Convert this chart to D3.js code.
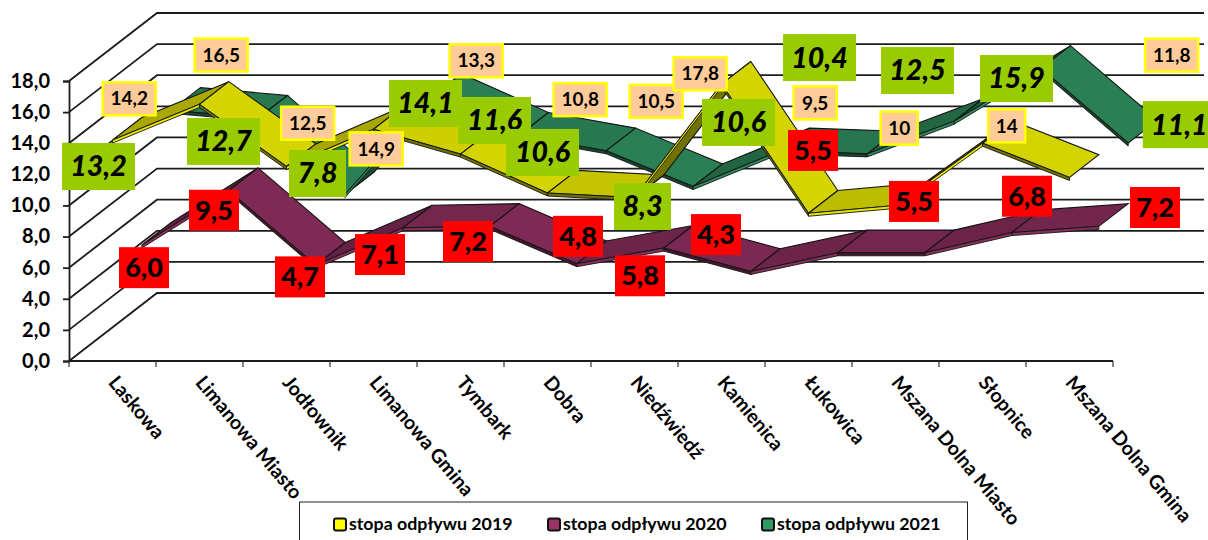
<!DOCTYPE html>
<html lang="pl">
<head>
<meta charset="utf-8">
<title>Stopa odpływu</title>
<script src="https://d3js.org/d3.v7.min.js"></script>
<style>
  body { margin: 0; background: #fff; }
  svg { display: block; }
  text { font-family: Lato, "Open Sans", sans-serif; font-weight: 700; fill: #000; }
</style>
</head>
<body>
<script>
const categories = ["Laskowa", "Limanowa Miasto", "Jodłownik", "Limanowa Gmina", "Tymbark", "Dobra",
  "Niedźwiedź", "Kamienica", "Łukowica", "Mszana Dolna Miasto", "Słopnice", "Mszana Dolna Gmina"];
const yTicks = [0, 2, 4, 6, 8, 10, 12, 14, 16, 18];
const seriesNames = ["stopa odpływu 2019", "stopa odpływu 2020", "stopa odpływu 2021"];
const values2019 = [14.2, 16.5, 12.5, 14.9, 13.3, 10.8, 10.5, 17.8, 9.5, 10, 14, 11.8];
const values2020 = [6.0, 9.5, 4.7, 7.1, 7.2, 4.8, 5.8, 4.3, 5.5, 5.5, 6.8, 7.2];
const values2021 = [13.2, 12.7, 7.8, 14.1, 11.6, 10.6, 8.3, 10.6, 10.4, 12.5, 15.9, 11.1];

// the labels were dragged by hand in the original, so each one has its own offset from its point
const labelShift2019 = [[2,-30],[7,-38],[6.5,-32],[-12,31],[1,-82],[18,-82],[7,-85],[-36,1],[-8,-99],[-11,-66],[9.5,-6],[87.5,-111]];
const labelShift2020 = [[-12.5,34],[-29.5,31],[-30.5,23],[-37.5,38],[-36.5,26.5],[-13.5,-16],[-38.5,39],[-49.5,-25.5],[-39.5,-91],[-25.5,-40],[0.5,-25],[41.5,-7.5]];
const labelShift2021 = [[-87.3,67.5],[-49.3,34.7],[-42.3,-9.5],[-21.3,18.5],[-39.3,-3.4],[-78.3,13],[-65.3,31.3],[-56.3,-17],[-62.3,-85],[-51.3,-39.4],[-39.3,21.5],[36.5,-7]];

const width = 1208, height = 540;
const plotLeft = 69, plotRight = 1113, plotBottom = 361, plotTop = 81;
const depthX = 88, depthY = -68;   // oblique offset front wall -> back wall

const xScale = d3.scaleBand().domain(d3.range(categories.length)).range([plotLeft, plotRight]);
const yScale = d3.scaleLinear().domain([0, 18]).range([plotBottom, plotTop]);
const zScale = d3.scaleLinear().domain([0, 3]).range([0, 1]);

// data -> screen, z runs 0..3 over the three series rows
const px = (i, z) => xScale(i) + xScale.bandwidth() / 2 + zScale(z) * depthX;
const py = (v, z) => yScale(v) + zScale(z) * depthY;

const svg = d3.select("body").append("svg").attr("width", width).attr("height", height);

// walls
const backRight = 1204;
yTicks.forEach(t => {
  svg.append("path")
    .attr("d", `M${plotLeft},${yScale(t)}L${plotLeft + depthX},${yScale(t) + depthY}L${backRight},${yScale(t) + depthY}`)
    .attr("fill", "none").attr("stroke", "#1c1c1c").attr("stroke-width", 1.8);
});

// ribbons
const shade = d3.scaleLinear().domain([-1.4, -0.4, 0, 0.4]).range([0.42, 0.66, 0.76, 0.83]).clamp(true);

function ribbon(values, row, colour) {
  const g = svg.append("g");
  const base = d3.color(colour);
  const lit = k => d3.rgb(base.r * k, base.g * k, base.b * k);
  d3.pairs(values).forEach(([a, b], n) => {
    const x0 = px(n, row), x1 = px(n + 1, row);
    const y0 = py(a, row), y1 = py(b, row);
    const slope = (y1 - y0) / (x1 - x0);
    const xb0 = px(n, row + 1), xb1 = px(n + 1, row + 1);
    const yb0 = py(a, row + 1), yb1 = py(b, row + 1);
    g.append("polygon")
      .attr("points", [[x0, y0], [x1, y1], [xb1, yb1], [xb0, yb0]].join(" "))
      .attr("fill", lit(shade(slope))).attr("stroke", "#141414").attr("stroke-width", 1.1);
    g.append("polygon")
      .attr("points", [[x0, y0], [x1, y1], [x1, y1 + 3], [x0, y0 + 3]].join(" "))
      .attr("fill", lit(slope < 0 ? 0.9 : 0.45)).attr("stroke", "#141414").attr("stroke-width", 0.9);
  });
}
ribbon(values2021, 2, "#339966");
ribbon(values2020, 1, "#993366");
ribbon(values2019, 0, "#ffff00");

// y axis
const yAxis = svg.append("g").attr("transform", `translate(${plotLeft},0)`)
  .call(d3.axisLeft(yScale).tickValues(yTicks).tickSize(6).tickPadding(13)
    .tickFormat(d => d.toFixed(1).replace(".", ",")));
yAxis.selectAll("path, line").attr("stroke", "#1c1c1c").attr("stroke-width", 1.8);
yAxis.selectAll("text").style("font-size", "20px").style("font-family", "Lato, sans-serif").style("font-weight", 700);

// x axis, ticks on the band edges
const xLine = svg.append("g");
xLine.append("line").attr("x1", plotLeft).attr("x2", plotRight).attr("y1", plotBottom).attr("y2", plotBottom)
  .attr("stroke", "#1c1c1c").attr("stroke-width", 1.8);
d3.range(categories.length + 1).forEach(i => {
  const x = plotLeft + i * xScale.step();
  xLine.append("line").attr("x1", x).attr("x2", x).attr("y1", plotBottom).attr("y2", plotBottom + 6)
    .attr("stroke", "#333").attr("stroke-width", 1.2);
});

// legend
svg.append("rect").attr("x", 299.5).attr("y", 502).attr("width", 668).attr("height", 60)
  .attr("fill", "#fff").attr("stroke", "#222").attr("stroke-width", 1);
const legendColours = ["#ffff00", "#993366", "#339966"];
const legendX = [334, 548, 762];
seriesNames.forEach((name, i) => {
  svg.append("rect").attr("x", legendX[i]).attr("y", 518.5).attr("width", 12).attr("height", 12).attr("rx", 2)
    .attr("fill", legendColours[i]).attr("stroke", "#111").attr("stroke-width", 2);
  svg.append("text").attr("x", legendX[i] + 15).attr("y", 530).style("font-size", "17.8px").text(name);
});

// category labels
categories.forEach((c, i) => {
  svg.append("text")
    .attr("transform", `translate(${px(i, 0) - 5},${plotBottom + 22}) rotate(50)`)
    .style("font-size", "19.5px").text(c);
});

// data labels
function labels(values, shifts, row, opts) {
  values.forEach((v, i) => {
    const cx = px(i, row + 0.5) + shifts[i][0];
    const cy = py(v, row + 0.5) + shifts[i][1];
    const txt = opts.format(v);
    const w = opts.width(txt.length);
    svg.append("rect").attr("x", cx - w / 2).attr("y", cy - opts.height / 2)
      .attr("width", w).attr("height", opts.height)
      .attr("fill", opts.fill).attr("stroke", opts.stroke || "none").attr("stroke-width", opts.stroke ? 2.5 : 0);
    svg.append("text").attr("x", cx).attr("y", cy).attr("dy", "0.35em")
      .attr("text-anchor", "middle")
      .style("font-size", opts.size + "px").style("font-style", opts.italic ? "italic" : "normal")
      .style("font-weight", opts.weight)
      .text(txt);
  });
}
const fixed = v => v.toFixed(1).replace(".", ",");
labels(values2019, labelShift2019, 0, { format: v => String(v).replace(".", ","), width: n => ({2: 37, 3: 43, 4: 53})[n],
  height: 33, fill: "#ffcc99", stroke: "#ffff00", size: 19, weight: 700 });
labels(values2020, labelShift2020, 1, { format: fixed, width: () => 50, height: 41, fill: "#ff0000", size: 27, weight: 900 });
labels(values2021, labelShift2021, 2, { format: fixed, width: n => n > 3 ? 73 : 57, height: 47, fill: "#99cc00", size: 28.5, weight: 900, italic: true });
</script>
</body>
</html>
